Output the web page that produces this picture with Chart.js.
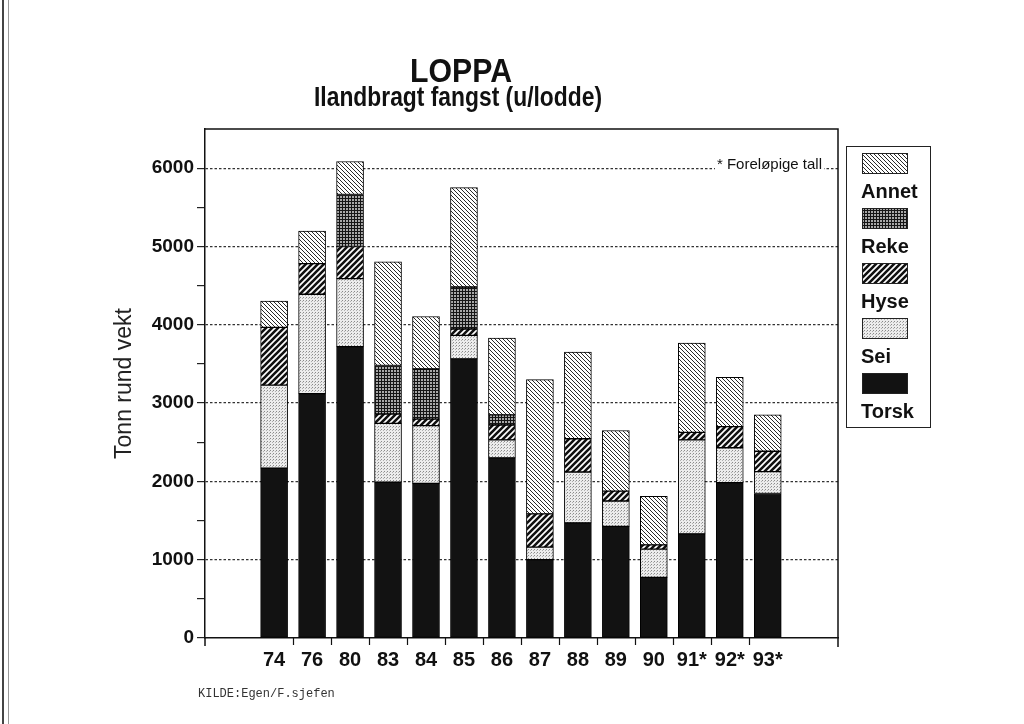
<!DOCTYPE html>
<html>
<head>
<meta charset="utf-8">
<title>LOPPA – Ilandbragt fangst</title>
<script src="https://cdn.jsdelivr.net/npm/chart.js@4.4.1/dist/chart.umd.min.js"></script>
<style>
  html, body { margin: 0; padding: 0; background: #fff; }
  #wrap { position: relative; width: 1024px; height: 724px; overflow: hidden; }
  #c { display: block; }
  .edge { position: absolute; top: 0; bottom: 0; background: #444; }
</style>
</head>
<body>
<div id="wrap">
  <canvas id="c" width="1024" height="724"></canvas>
  <div class="edge" style="left:2px;width:2px"></div>
  <div class="edge" style="left:8px;width:1px;background:#999"></div>
</div>
<script>
/* ── Data (tonn rund vekt) ── */
const years = ["74", "76", "80", "83", "84", "85", "86", "87", "88", "89", "90", "91*", "92*", "93*"];
const torsk = [2170, 3120, 3720, 1990, 1975, 3565, 2300, 1000, 1470, 1425, 775, 1330, 1985, 1845];
const sei   = [1060, 1270, 870, 750, 737, 300, 230, 160, 650, 325, 360, 1200, 445, 280];
const hyse  = [737, 390, 410, 120, 84, 81, 190, 425, 425, 125, 55, 95, 270, 260];
const reke  = [0, 0, 663, 620, 641, 536, 130, 0, 0, 0, 0, 0, 0, 0];
const annet = [335, 415, 422, 1325, 669, 1269, 980, 1715, 1105, 775, 620, 1140, 630, 465];
const yMax = 6500;

const SANS = "'Liberation Sans', Arial, Helvetica, sans-serif";
const canvas = document.getElementById("c");
const mainCtx = canvas.getContext("2d");

/* --- Skraveringer (mønstre) --- */
function pattern(size, bg, draw) {
  const c = document.createElement("canvas");
  c.width = c.height = size;
  const g = c.getContext("2d");
  g.fillStyle = bg;
  g.fillRect(0, 0, size, size);
  draw(g, size);
  return mainCtx.createPattern(c, "repeat");
}
const fillTorsk = "#121212";
const fillSei = pattern(3, "#ececec", (g) => {
  g.fillStyle = "#8a8a8a";
  g.fillRect(0, 0, 1, 1);
  g.fillStyle = "#b0b0b0";
  g.fillRect(2, 1, 1, 1);
});
const fillHyse = pattern(6, "#fff", (g, s) => {
  g.strokeStyle = "#111";
  g.lineWidth = 2.6;
  g.beginPath();
  g.moveTo(-1, 1); g.lineTo(1, -1);
  g.moveTo(0, s); g.lineTo(s, 0);
  g.moveTo(s - 1, s + 1); g.lineTo(s + 1, s - 1);
  g.stroke();
});
const fillReke = pattern(3, "#a8a8a8", (g) => {
  g.fillStyle = "#151515";
  g.fillRect(0, 0, 1, 3);
  g.fillRect(0, 0, 3, 1);
});
const fillAnnet = pattern(4, "#fff", (g, s) => {
  g.strokeStyle = "#2a2a2a";
  g.lineWidth = 1;
  g.beginPath();
  g.moveTo(-1, s - 1); g.lineTo(1, s + 1);
  g.moveTo(0, 0); g.lineTo(s, s);
  g.moveTo(s - 1, -1); g.lineTo(s + 1, 1);
  g.stroke();
});

const series = [
  { label: "Torsk", values: torsk, fill: fillTorsk },
  { label: "Sei", values: sei, fill: fillSei },
  { label: "Hyse", values: hyse, fill: fillHyse },
  { label: "Reke", values: reke, fill: fillReke },
  { label: "Annet", values: annet, fill: fillAnnet },
];

/* ── Plugin: tittel, ramme, x-ticks, fotnote, kilde ── */
const decorPlugin = {
  id: "decor",
  afterDraw(chart) {
    const { ctx, chartArea: a, scales: { x, y } } = chart;
    ctx.save();

    // ramme topp + høyre
    ctx.strokeStyle = "#111";
    ctx.lineWidth = 1.5;
    ctx.beginPath();
    ctx.moveTo(a.left, a.top);
    ctx.lineTo(a.right, a.top);
    ctx.lineTo(a.right, a.bottom + 9);
    ctx.moveTo(a.left, a.bottom);
    ctx.lineTo(a.left, a.bottom + 8);
    ctx.stroke();

    // små tick-streker mellom søylene
    ctx.lineWidth = 1.2;
    ctx.beginPath();
    for (let i = 0; i < years.length - 1; i++) {
      const px = Math.round(x.getPixelForValue(i + 0.5)) + 0.5;
      ctx.moveTo(px, a.bottom);
      ctx.lineTo(px, a.bottom + 7);
    }
    ctx.stroke();

    // fotnote på 6000-linjen
    const y6 = y.getPixelForValue(6000);
    ctx.font = "15px " + SANS;
    ctx.textAlign = "right";
    ctx.textBaseline = "alphabetic";
    const note = "* Foreløpige tall";
    const w = ctx.measureText(note).width;
    ctx.fillStyle = "#fff";
    ctx.fillRect(a.right - 16 - w - 2, y6 - 13, w + 4, 15);
    ctx.fillStyle = "#111";
    ctx.fillText(note, a.right - 16, y6 + 1);

    // tittel
    ctx.textAlign = "center";
    fitText(ctx, "LOPPA", "bold 34px 'Liberation Sans Narrow', " + SANS, 461, 82, 102);
    fitText(ctx, "Ilandbragt fangst (u/lodde)", "bold 28px 'Liberation Sans Narrow', " + SANS, 458, 106, 288);

    // kilde
    ctx.textAlign = "left";
    ctx.font = "12px 'Courier New', 'Liberation Mono', monospace";
    ctx.fillStyle = "#333";
    ctx.fillText("KILDE:Egen/F.sjefen", 198, 697);
    ctx.restore();
  },
};

function fitText(ctx, txt, font, cx, base, maxW) {
  ctx.font = font;
  const w = ctx.measureText(txt).width;
  ctx.save();
  ctx.translate(cx, base);
  if (w > maxW * 1.04) ctx.scale(maxW / w, 1);
  ctx.fillStyle = "#111";
  ctx.fillText(txt, 0, 0);
  ctx.restore();
}

/* ── Plugin: legende i boks (swatch over tekst) ── */
const boxLegend = {
  id: "boxLegend",
  afterDraw(chart) {
    const ctx = chart.ctx;
    const bx = 846, by = 146, bw = 84, bh = 281;
    ctx.save();
    ctx.strokeStyle = "#222";
    ctx.lineWidth = 1;
    ctx.strokeRect(bx + 0.5, by + 0.5, bw, bh);
    const ds = chart.data.datasets.slice().reverse();
    ds.forEach((d, i) => {
      const sy = by + 7 + i * 55;
      ctx.fillStyle = d.backgroundColor;
      ctx.fillRect(bx + 16, sy, 45, 20);
      ctx.strokeRect(bx + 16.5, sy + 0.5, 45, 20);
      ctx.fillStyle = "#111";
      ctx.font = "bold 20px " + SANS;
      ctx.textAlign = "left";
      ctx.textBaseline = "middle";
      ctx.fillText(d.label, bx + 15, sy + 39);
    });
    ctx.restore();
  },
};

new Chart(mainCtx, {
  type: "bar",
  data: {
    datasets: series.map((s) => ({
      label: s.label,
      data: years.map((_, i) => ({ x: i, y: s.values[i] || null })),
      backgroundColor: s.fill,
      borderColor: "#000",
      borderWidth: 1,
      borderSkipped: false,
      barThickness: 27,
    })),
  },
  options: {
    responsive: false,
    devicePixelRatio: 1,
    animation: false,
    layout: { padding: { left: 100, top: 129, right: 186, bottom: 46 } },
    plugins: {
      legend: { display: false },
      tooltip: { enabled: false },
    },
    scales: {
      x: {
        type: "linear",
        stacked: true,
        offset: false,
        min: -1.82,
        max: years.length - 1 + 1.85,
        afterBuildTicks: (s) => { s.ticks = years.map((_, i) => ({ value: i })); },
        afterFit: (s) => { s.height = 40; },
        ticks: {
          autoSkip: false,
          maxRotation: 0,
          padding: 10,
          color: "#111",
          font: { family: SANS, size: 20, weight: "bold" },
          callback: (v) => years[v] ?? "",
        },
        grid: { display: false, drawTicks: false, offset: false },
        border: { display: true, color: "#111", width: 1.5 },
      },
      y: {
        stacked: true,
        min: 0,
        max: yMax,
        afterFit: (s) => { s.width = 105; },
        ticks: {
          stepSize: 500,
          padding: 3,
          color: "#111",
          font: { family: SANS, size: 19, weight: "bold" },
          callback: (v) => (v % 1000 === 0 ? String(v) : ""),
        },
        grid: {
          color: (c) => (c.tick && c.tick.value % 1000 === 0 && c.tick.value > 0 ? "#333" : "rgba(0,0,0,0)"),
          lineWidth: 1.2,
          tickColor: (c) => (c.tick && c.tick.value === yMax ? "rgba(0,0,0,0)" : "#222"),
          tickLength: 8,
          tickWidth: 1.2,
          tickBorderDash: [],
        },
        border: { display: true, color: "#111", width: 1.5, dash: [2.5, 2] },
        title: {
          display: true,
          text: "Tonn rund vekt",
          color: "#222",
          font: { family: SANS, size: 23, weight: "normal" },
          padding: { top: 11, bottom: 0 },
        },
      },
    },
  },
  plugins: [decorPlugin, boxLegend],
});
</script>
</body>
</html>
